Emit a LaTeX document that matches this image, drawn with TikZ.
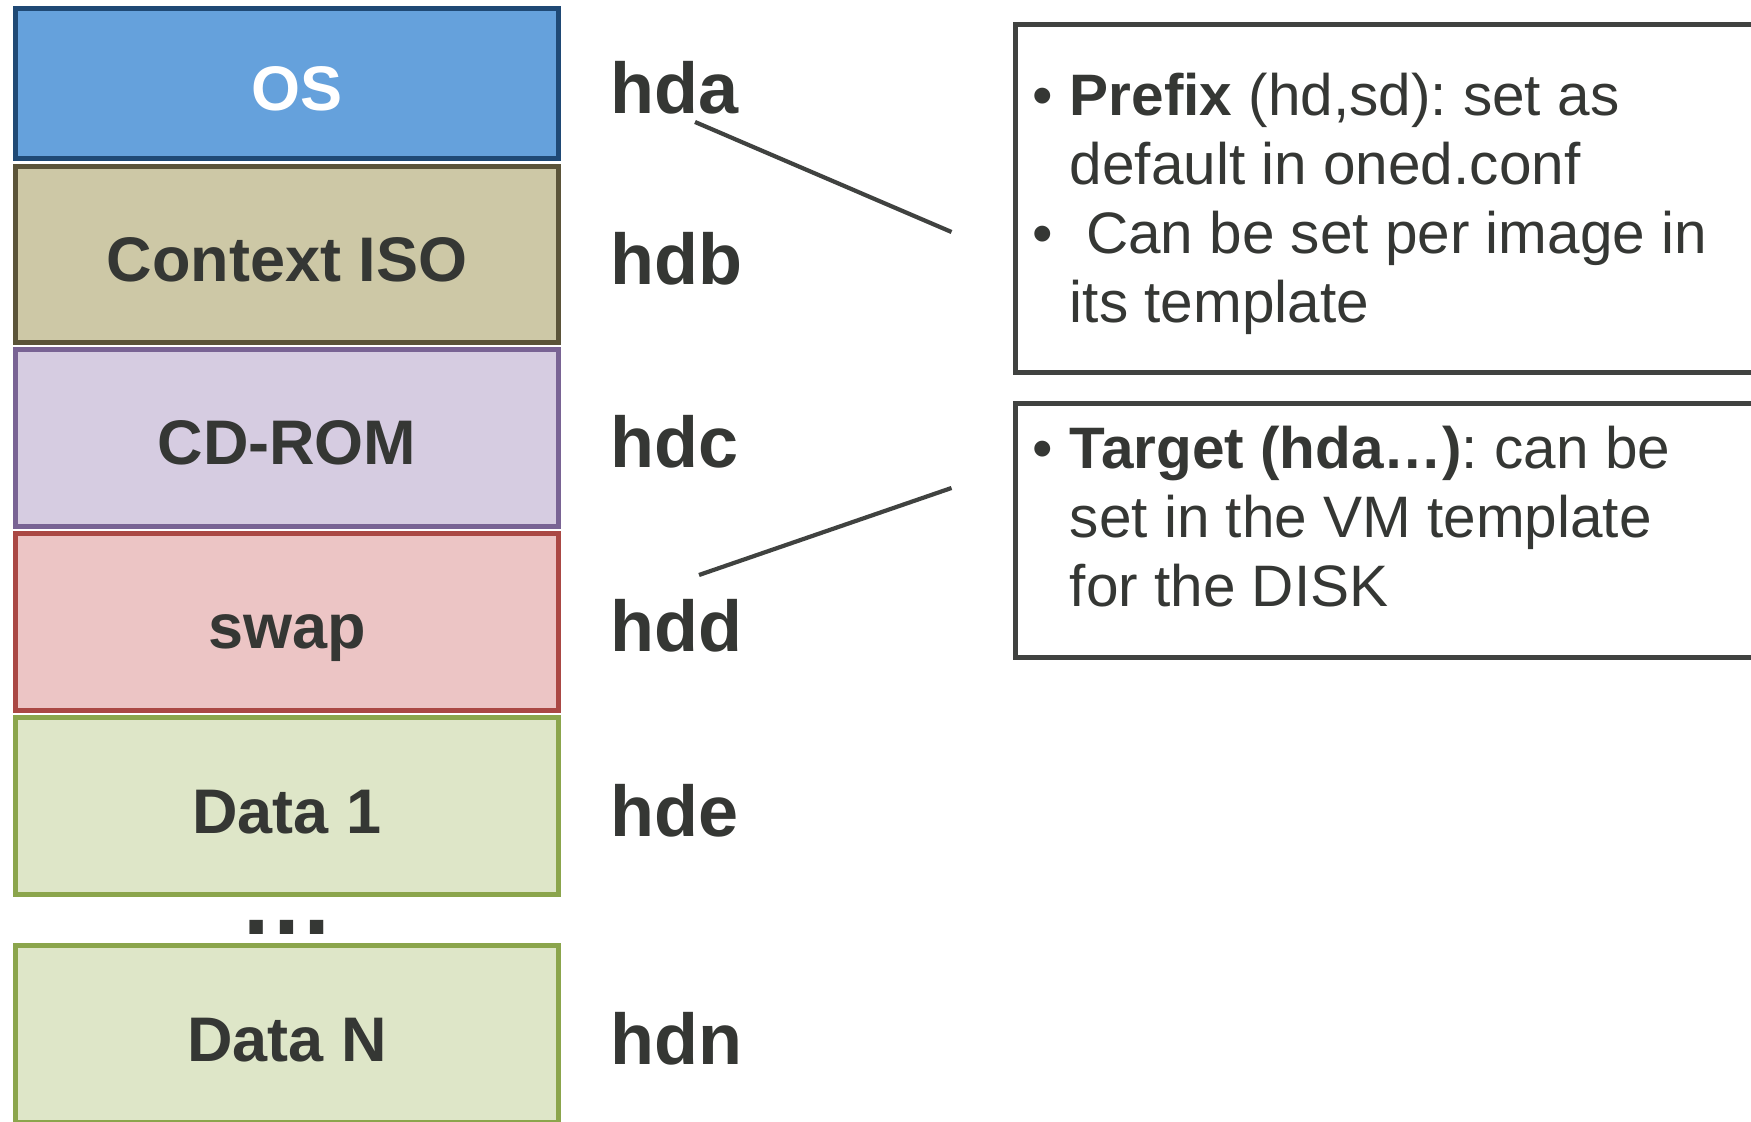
\documentclass[tikz,border=0pt]{standalone}
\usepackage{fontspec}
\setmainfont{Liberation Sans}
\frenchspacing
\definecolor{osfill}{HTML}{65A1DC}
\definecolor{osdraw}{HTML}{1F4975}
\definecolor{isofill}{HTML}{CDC8A6}
\definecolor{isodraw}{HTML}{5B5439}
\definecolor{cdfill}{HTML}{D6CCE1}
\definecolor{cddraw}{HTML}{796394}
\definecolor{swfill}{HTML}{ECC5C5}
\definecolor{swdraw}{HTML}{AA4844}
\definecolor{datafill}{HTML}{DEE6C8}
\definecolor{datadraw}{HTML}{8BA54C}
\definecolor{textdark}{HTML}{353734}
\definecolor{notegray}{HTML}{404240}
\begin{document}
\begin{tikzpicture}[x=0.5pt,y=-0.5pt,
  disk/.style={rectangle, line width=2.5pt, minimum width=271.9pt, minimum height=88.3pt,
    inner sep=0pt, text height=27pt, text depth=0pt,
    font=\fontsize{31.5pt}{36pt}\selectfont\bfseries, text=textdark},
  dev/.style={anchor=base west, inner sep=0pt,
    font=\fontsize{36pt}{42pt}\selectfont\bfseries, text=textdark},
  note/.style={draw=notegray, line width=2.5pt, rectangle, anchor=north west,
    minimum width=393.4pt, inner sep=0pt},
  notetext/.style={anchor=base west, inner sep=0pt,
    font=\fontsize{29.25pt}{34.5pt}\selectfont\frenchspacing, text=textdark},
  link/.style={draw=notegray, line width=2.1pt}
]
\useasboundingbox (0,0) rectangle (1751,1122);

% disk stack
\node[disk, fill=osfill, draw=osdraw, text=white, minimum height=75.15pt] (os) at (287,83.6) {\hspace*{10pt}OS};
\node[disk, fill=isofill, draw=isodraw] (iso) at (287,254.5) {Context ISO};
\node[disk, fill=cdfill, draw=cddraw] (cd) at (287,437.8) {CD-ROM};
\node[disk, fill=swfill, draw=swdraw] (swap) at (287,621.8) {swap};
\node[disk, fill=datafill, draw=datadraw] (d1) at (287,806) {Data 1};
\node[anchor=base, inner sep=0pt, font=\fontsize{47.5pt}{50pt}\selectfont\bfseries, text=textdark] (dots) at (287,934.5) {…};
\node[disk, fill=datafill, draw=datadraw] (dn) at (287,1034) {Data N};

% device names
\node[dev] (hda) at (610.5,113.6) {hda};
\node[dev] (hdb) at (610.5,284.5) {hdb};
\node[dev] (hdc) at (610.5,467.8) {hdc};
\node[dev] (hdd) at (610.5,651.8) {hdd};
\node[dev] (hde) at (610.5,836) {hde};
\node[dev] (hdn) at (610.5,1064) {hdn};

% note boxes
\node[note, minimum height=173.8pt] (n1) at (1013.2,22.5) {};
\node[note, minimum height=127pt] (n2) at (1013.2,401) {};

\node[notetext] (t1) at (1032,116) {\begin{tabular}[t]{@{}l@{}}
\makebox[18.7pt][l]{•}\textbf{Prefix} (hd,sd): set as\\
\hspace*{18.7pt}default in oned.conf\\
\makebox[18.7pt][l]{•}\hspace*{0.278em}Can be set per image in\\
\hspace*{18.7pt}its template
\end{tabular}};

\node[notetext] (t2) at (1032,469) {\begin{tabular}[t]{@{}l@{}}
\makebox[18.7pt][l]{•}\textbf{Target (hda…)}: can be\\
\hspace*{18.7pt}set in the VM template\\
\hspace*{18.7pt}for the DISK
\end{tabular}};

% connectors
\coordinate (c1a) at (695,122);
\coordinate (c1b) at (951.5,232);
\coordinate (c2a) at (699,575);
\coordinate (c2b) at (951.5,488);
\draw[link] (c1a) -- (c1b);
\draw[link] (c2a) -- (c2b);
\end{tikzpicture}
\end{document}
